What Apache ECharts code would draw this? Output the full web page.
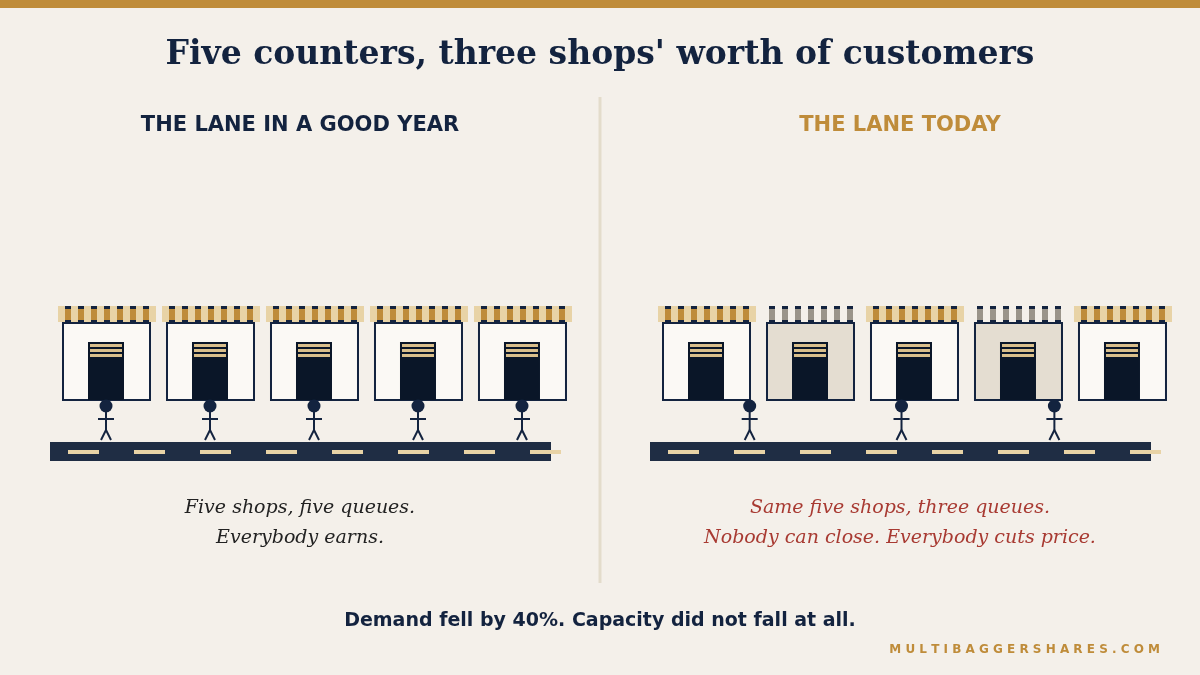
<!DOCTYPE html>
<html><head><meta charset="utf-8">
<script src="https://cdn.jsdelivr.net/npm/echarts@6/dist/echarts.min.js"></script>
<style>html,body{margin:0;background:#f4f0ea}#c{width:1200px;height:675px}</style></head>
<body><div id="c"></div>
<script>
const shopsGood = [1,1,1,1,1];          // 1 = trading normally
const shopsToday = [1,0,1,0,1];         // 0 = greyed / struggling
const customersGood = [0,1,2,3,4];      // queue positions, in shop units
const customersToday = [0.42,1.88,3.35];
const titles = ["THE LANE IN A GOOD YEAR","THE LANE TODAY"];

const C = {navy:'#13233f', door:'#0a1628', gold:'#bf8c3a', tan:'#e8d3a6', grey:'#9a948a', closed:'#e4ddd1', road:'#1f2d44'};
const chart = echarts.init(document.getElementById('c'));

function shopItem(p, api){
  const c = api.coord([api.value(0),0]); const x=c[0], B=c[1];
  const open = api.value(1)===1;
  const ch=[];
  if(open) ch.push({type:'rect',shape:{x:x-48,y:B-155,width:98,height:16},style:{fill:C.tan}});
  for(let k=0;k<7;k++){
    const sx=x-41+13*k;
    ch.push({type:'rect',shape:{x:sx,y:B-155,width:6,height:16},style:{fill:open?C.gold:C.grey}});
    ch.push({type:'rect',shape:{x:sx,y:B-155,width:6,height:3},style:{fill:C.navy}});
    ch.push({type:'rect',shape:{x:sx,y:B-141,width:6,height:2},style:{fill:C.navy}});
  }
  ch.push({type:'rect',shape:{x:x-43,y:B-138,width:87,height:77},style:{fill:open?'#fbf9f5':C.closed,stroke:C.navy,lineWidth:2}});
  ch.push({type:'rect',shape:{x:x-18,y:B-119,width:36,height:58},style:{fill:C.door}});
  for(let k=0;k<3;k++) ch.push({type:'rect',shape:{x:x-16,y:B-117+5*k,width:32,height:3},style:{fill:'#d9bf8c'}});
  return {type:'group',children:ch};
}
function personItem(p, api){
  const c = api.coord([api.value(0),0]); const x=c[0], B=c[1];
  const ls={stroke:C.navy,lineWidth:2};
  return {type:'group',children:[
    {type:'circle',shape:{cx:x,cy:B-55,r:6.5},style:{fill:C.navy}},
    {type:'line',shape:{x1:x,y1:B-49,x2:x,y2:B-31},style:ls},
    {type:'line',shape:{x1:x-8,y1:B-42,x2:x+8,y2:B-42},style:ls},
    {type:'line',shape:{x1:x,y1:B-31,x2:x-5,y2:B-21},style:ls},
    {type:'line',shape:{x1:x,y1:B-31,x2:x+5,y2:B-21},style:ls}]};
}
function roadItem(p, api){
  const a = api.coord([api.value(0),0]), b = api.coord([api.value(1),0]);
  const B=a[1]; const ch=[{type:'rect',shape:{x:a[0],y:B-19,width:b[0]-a[0],height:19},style:{fill:C.road}}];
  for(let d=a[0]+18; d<b[0]; d+=66) ch.push({type:'rect',shape:{x:d,y:B-11,width:31,height:4},style:{fill:'#e8d3a6'}});
  return {type:'group',children:ch};
}
const xmin=-0.5385, xmax=4.279;
const grids=[{left:50,width:501,top:290,bottom:214},{left:650,width:501,top:290,bottom:214}];
const series=[];
[[shopsGood,customersGood],[shopsToday,customersToday]].forEach((d,i)=>{
  series.push({type:'custom',xAxisIndex:i,yAxisIndex:i,renderItem:roadItem,data:[[xmin,xmax]],silent:true});
  series.push({type:'custom',xAxisIndex:i,yAxisIndex:i,renderItem:shopItem,data:d[0].map((v,k)=>[k,v]),silent:true});
  series.push({type:'custom',xAxisIndex:i,yAxisIndex:i,renderItem:personItem,data:d[1].map(v=>[v]),silent:true});
});
const T=(o)=>Object.assign({type:'text'},o);
chart.setOption({
  backgroundColor:'#f4f0ea', animation:false,
  grid:grids,
  xAxis:[0,1].map(i=>({type:'value',gridIndex:i,min:xmin,max:xmax,show:false})),
  yAxis:[0,1].map(i=>({type:'value',gridIndex:i,min:0,max:10,show:false})),
  series,
  graphic:[
    {type:'rect',shape:{x:0,y:0,width:1200,height:8},style:{fill:C.gold}},
    {type:'line',shape:{x1:600,y1:97,x2:600,y2:583},style:{stroke:'#e3dccb',lineWidth:3}},
    T({x:600,y:55,style:{text:"Five counters, three shops' worth of customers",font:'bold 33px "DejaVu Serif", serif',fill:C.navy,align:'center',verticalAlign:'middle'}}),
    T({x:300,y:126,style:{text:titles[0],font:'bold 21px "DejaVu Sans", sans-serif',fill:C.navy,align:'center',verticalAlign:'middle'}}),
    T({x:900,y:126,style:{text:titles[1],font:'bold 21px "DejaVu Sans", sans-serif',fill:C.gold,align:'center',verticalAlign:'middle'}}),
    T({x:300,y:508,style:{text:'Five shops, five queues.',font:'italic 19px "DejaVu Serif", serif',fill:'#222',align:'center',verticalAlign:'middle'}}),
    T({x:300,y:538,style:{text:'Everybody earns.',font:'italic 19px "DejaVu Serif", serif',fill:'#222',align:'center',verticalAlign:'middle'}}),
    T({x:900,y:508,style:{text:'Same five shops, three queues.',font:'italic 19px "DejaVu Serif", serif',fill:'#a83a32',align:'center',verticalAlign:'middle'}}),
    T({x:900,y:538,style:{text:'Nobody can close. Everybody cuts price.',font:'italic 19px "DejaVu Serif", serif',fill:'#a83a32',align:'center',verticalAlign:'middle'}}),
    T({x:600,y:621,style:{text:'Demand fell by 40%. Capacity did not fall at all.',font:'bold 19px "DejaVu Sans", sans-serif',fill:C.navy,align:'center',verticalAlign:'middle'}}),
    T({x:1160,y:650,style:{text:'M U L T I B A G G E R S H A R E S . C O M',font:'bold 12px "DejaVu Sans", sans-serif',fill:C.gold,align:'right',verticalAlign:'middle'}})
  ]
});
</script></body></html>
